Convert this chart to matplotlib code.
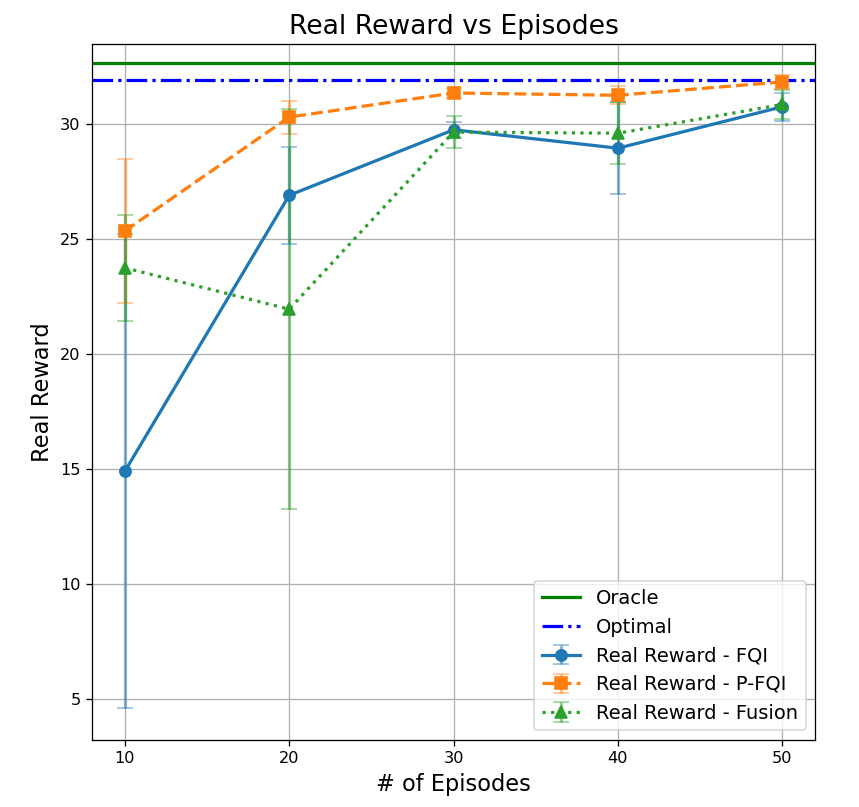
import matplotlib
matplotlib.use("Agg")
import matplotlib.pyplot as plt
import numpy as np

episodes = [10, 20, 30, 40, 50]
fqi_mean = [14.9, 26.9, 29.75, 28.95, 30.75]
fqi_err = [10.3, 2.1, 0.35, 2.0, 0.6]
pfqi_mean = [25.35, 30.3, 31.35, 31.25, 31.83]
pfqi_err = [3.15, 0.72, 0.2, 0.4, 0.3]
fusion_mean = [23.75, 21.95, 29.65, 29.6, 30.85]
fusion_err = [2.3, 8.7, 0.7, 1.35, 0.65]
oracle_value = 32.65
optimal_value = 31.9

DPI = 116
fig = plt.figure(figsize=(859 / DPI, 807 / DPI), dpi=DPI)
ax = fig.add_axes([0.107, 0.083, 0.842, 0.8625])

ax.axhline(oracle_value, color='green', linestyle='-', linewidth=2, label='Oracle')
ax.axhline(optimal_value, color='blue', linestyle='-.', linewidth=2, label='Optimal')

ax.errorbar(episodes, fqi_mean, yerr=fqi_err, fmt='o-', color='#1f77b4', linewidth=2,
            markersize=7, capsize=5, elinewidth=2, ecolor=(0.12, 0.47, 0.71, 0.5),
            label='Real Reward - FQI')
ax.errorbar(episodes, pfqi_mean, yerr=pfqi_err, fmt='s--', color='#ff7f0e', linewidth=2,
            markersize=7, capsize=5, elinewidth=2, ecolor=(1.0, 0.5, 0.05, 0.5),
            label='Real Reward - P-FQI')
ax.errorbar(episodes, fusion_mean, yerr=fusion_err, fmt='^:', color='#2ca02c', linewidth=2,
            markersize=7, capsize=5, elinewidth=2, ecolor=(0.17, 0.63, 0.17, 0.5),
            label='Real Reward - Fusion')

ax.set_xticks(episodes)
ax.set_xlim(8, 52)
ax.set_ylim(3.22, 33.48)
ax.set_title('Real Reward vs Episodes', fontsize=16.5)
ax.set_xlabel('# of Episodes', fontsize=14)
ax.set_ylabel('Real Reward', fontsize=14)
ax.tick_params(labelsize=10)
ax.grid(True)
ax.legend(loc='lower right', fontsize=12)

fig.savefig('out.png', dpi=DPI)
